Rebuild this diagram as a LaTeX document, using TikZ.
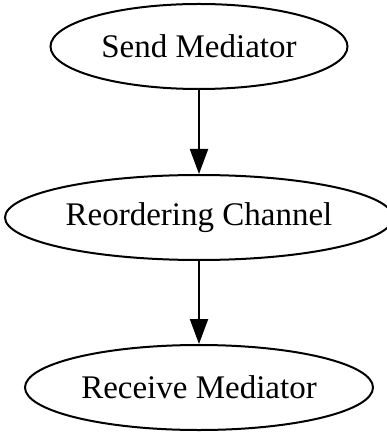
\documentclass[tikz,border=0pt]{standalone}
\usepackage{fontspec}
\setmainfont{Liberation Serif}
\usetikzlibrary{shapes.geometric,arrows.meta}

\begin{document}
\begin{tikzpicture}[x=0.5pt, y=-0.5pt,
  proc/.style={ellipse, draw=black, line width=1pt, inner sep=0pt, minimum height=42.5pt,
    font=\fontsize{16.5}{20}\selectfont},
  flow/.style={draw=black, line width=1pt, -{Triangle[length=12.5pt, width=9pt]}}
]
\useasboundingbox (0,0) rectangle (386,432);

\node[proc, minimum width=148.5pt] (send) at (199, 46.5) {Send Mediator};
\node[proc, minimum width=194pt] (chan) at (199, 217.5) {Reordering Channel};
\node[proc, minimum width=174pt] (recv) at (199, 387.5) {Receive Mediator};
\draw[flow] (send) -- (chan);
\draw[flow] (chan) -- (recv);

\end{tikzpicture}
\end{document}
